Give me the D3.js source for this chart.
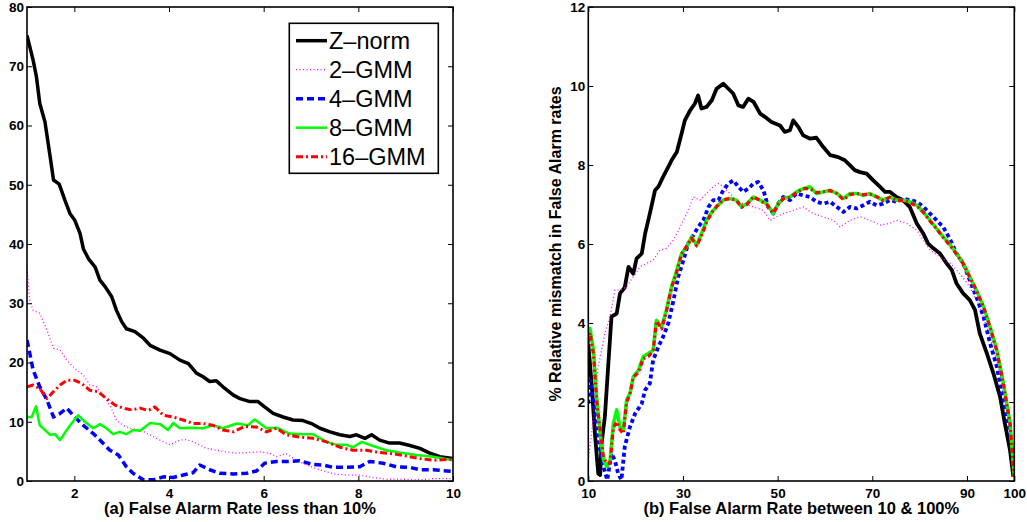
<!DOCTYPE html>
<html>
<head>
<meta charset="utf-8">
<script src="https://cdn.jsdelivr.net/npm/d3@7"></script>
<style>
  body { margin: 0; background: #fff; }
  svg { display: block; font-family: "Liberation Sans", Arial, Helvetica, sans-serif; }
  .tick text { font-size: 13.5px; font-weight: bold; fill: #000; }
  .tick line { stroke: #000; stroke-width: 1; }
  .axisName { font-size: 16.5px; font-weight: bold; fill: #000; }
</style>
</head>
<body>
<div class="visHolder"></div>
<script>
var width = 1027,
  height = 522;

// series names + colours (shared by both panels)
var seriesNames = ["Z\u2013norm", "2\u2013GMM", "4\u2013GMM", "8\u2013GMM", "16\u2013GMM"];
var seriesColors = ["#000000", "#ff00ff", "#0000ff", "#00ff00", "#ff0000"];

// ---- panel (a): false alarm rate 1..10 %
var leftXTicks = [2, 4, 6, 8, 10];
var leftYTicks = [0, 10, 20, 30, 40, 50, 60, 70, 80];

var leftZnorm = [[1,75.2],[1.13,71],[1.2,68.2],[1.27,63.7],[1.38,60.6],[1.49,54.7],[1.56,50.8],[1.68,50.1],[1.8,47.4],[1.91,45.1],[2.01,44],[2.12,41.8],[2.19,39.2],[2.3,37.5],[2.44,36.1],[2.54,33.9],[2.65,32.8],[2.79,31.1],[2.89,28.8],[3.0,26.9],[3.1,25.7],[3.28,25.2],[3.46,24.1],[3.6,22.9],[3.81,22.1],[4.02,21.5],[4.23,20.4],[4.41,19.8],[4.58,18.2],[4.72,17.6],[4.86,16.8],[5.0,16.9],[5.14,15.9],[5.36,14.5],[5.5,13.9],[5.71,13.4],[5.88,13.4],[6.02,12.5],[6.2,11.4],[6.41,10.8],[6.62,10.3],[6.83,10.2],[7.01,9.7],[7.19,8.9],[7.4,8.3],[7.61,7.8],[7.82,7.5],[7.96,7.8],[8.14,7.2],[8.28,7.8],[8.45,6.9],[8.66,6.4],[8.87,6.4],[9.09,6.0],[9.3,5.5],[9.51,4.7],[9.72,4.1],[10,3.8]];
var left2GMM = [[1,35.9],[1.06,30.5],[1.13,28.8],[1.27,28.3],[1.42,25.5],[1.56,22.4],[1.7,22.1],[1.84,20.4],[2.01,19],[2.19,17.9],[2.33,16.2],[2.47,15.9],[2.61,14.5],[2.75,12.8],[2.89,10.3],[3.03,9.4],[3.17,8.9],[3.39,8.6],[3.6,7.8],[3.81,6.9],[4.02,6.1],[4.23,6.9],[4.37,7.0],[4.58,6.4],[4.79,5.5],[5.0,5.2],[5.22,4.9],[5.43,4.7],[5.64,4.8],[5.92,4.9],[6.13,4.7],[6.27,4.1],[6.48,4.6],[6.69,3.5],[6.9,2.7],[7.19,1.9],[7.47,1.2],[7.75,1.0],[8.03,1.0],[8.31,0.6],[8.59,0.3],[8.87,0.3],[9.3,0.2],[9.58,0.4],[10,0.4]];
var left4GMM = [[1,23.8],[1.06,21.5],[1.13,18.7],[1.27,15.9],[1.42,13.7],[1.56,10.8],[1.7,11.4],[1.84,12.3],[2.01,10.8],[2.19,9.4],[2.4,8.0],[2.54,6.9],[2.75,5.2],[2.93,4.4],[3.1,2.4],[3.24,1.3],[3.46,0.2],[3.67,0.2],[3.88,0.7],[4.09,0.6],[4.3,1.0],[4.51,1.4],[4.65,2.7],[4.86,1.9],[5.07,1.3],[5.36,1.2],[5.64,1.3],[5.85,1.7],[6.02,3.0],[6.27,3.3],[6.55,3.3],[6.76,3.4],[7.04,2.8],[7.26,2.7],[7.47,2.3],[7.75,2.3],[8.03,2.4],[8.24,3.3],[8.52,3.0],[8.8,2.4],[9.09,2.3],[9.3,1.9],[9.58,1.9],[10,1.6]];
var left8GMM = [[1,10.8],[1.1,10.8],[1.19,12.6],[1.27,9.4],[1.38,8.6],[1.49,7.8],[1.59,7.9],[1.7,6.9],[1.84,8.6],[1.94,9.7],[2.08,11.1],[2.22,10.0],[2.4,8.9],[2.54,9.6],[2.68,8.9],[2.82,7.9],[2.96,8.3],[3.1,7.9],[3.24,8.6],[3.39,8.5],[3.6,9.8],[3.81,9.6],[3.98,8.6],[4.09,9.8],[4.23,8.9],[4.44,9.0],[4.72,8.9],[4.93,9.4],[5.14,8.9],[5.43,9.7],[5.67,9.4],[5.81,10.4],[6.06,8.9],[6.27,9.0],[6.55,8.0],[6.83,7.9],[7.04,7.9],[7.33,6.6],[7.54,6.1],[7.75,6.1],[7.89,5.7],[8.07,6.6],[8.31,5.9],[8.59,5.2],[8.87,4.8],[9.23,4.4],[9.58,4.1],[10,3.5]];
var left16GMM = [[1,15.9],[1.13,16.2],[1.27,15.6],[1.42,13.9],[1.56,15.1],[1.7,16.2],[1.84,17.0],[2.01,17.0],[2.15,16.5],[2.33,15.3],[2.5,15.1],[2.68,13.9],[2.86,12.8],[3.03,12.3],[3.21,12.0],[3.39,12.3],[3.56,11.9],[3.7,12.5],[3.88,11.1],[4.09,10.8],[4.3,10.3],[4.51,9.7],[4.72,9.7],[4.93,9.4],[5.14,8.6],[5.36,8.3],[5.6,9.2],[5.85,9.1],[6.06,8.3],[6.27,8.9],[6.48,7.8],[6.76,7.4],[7.04,7.2],[7.33,6.6],[7.61,5.7],[7.89,5.2],[8.17,5.2],[8.45,4.8],[8.73,4.6],[9.02,4.2],[9.3,3.8],[9.58,3.5],[10,3.7]];

// ---- panel (b): false alarm rate 10..100 %
var rightXTicks = [10, 30, 50, 70, 90, 100];
var rightYTicks = [0, 2, 4, 6, 8, 10, 12];

var rightZnorm = [[10,3.48],[10.7,2.47],[11.4,1.2],[12.1,0.19],[12.5,0.15],[12.8,0.95],[13.5,1.63],[14.2,2.9],[14.9,4.16],[16.0,4.24],[16.7,4.75],[17.7,4.9],[18.5,5.42],[19.5,5.25],[20.2,5.63],[21.3,5.76],[22.0,6.26],[23.0,6.77],[24.1,7.36],[24.8,7.45],[25.8,7.7],[26.9,7.95],[27.6,8.12],[28.7,8.33],[29.7,8.79],[30.4,9.13],[31.5,9.38],[32.5,9.55],[33.2,9.76],[33.9,9.43],[35.0,9.47],[36.1,9.64],[37.1,9.93],[38.5,10.06],[39.6,9.93],[40.6,9.81],[41.7,9.51],[42.7,9.47],[43.8,9.68],[44.9,9.6],[46.3,9.3],[47.3,9.22],[48.7,9.09],[50.5,9.0],[51.5,8.84],[52.6,8.88],[53.3,9.13],[54.4,8.96],[55.4,8.75],[56.8,8.67],[58.2,8.69],[59.6,8.46],[61.1,8.25],[62.8,8.2],[64.2,8.12],[65.3,7.99],[66.3,7.87],[67.4,7.82],[68.8,7.78],[70.2,7.61],[71.6,7.45],[72.7,7.32],[73.7,7.32],[75.1,7.19],[76.5,7.11],[77.9,6.94],[79.4,6.52],[80.8,6.26],[81.8,6.01],[82.9,5.89],[84.3,5.76],[85.7,5.51],[86.8,5.34],[87.8,5.0],[89.2,4.75],[90.6,4.58],[91.7,4.33],[92.7,3.74],[94.2,3.23],[95.6,2.72],[97.0,2.13],[98.0,1.46],[99.1,0.78],[99.8,0.11]];
var right2GMM = [[10,0.53],[10.7,1.2],[11.4,2.05],[12.1,2.9],[12.8,3.31],[13.5,3.74],[14.6,4.16],[15.6,4.83],[16.7,4.83],[18.1,4.92],[19.5,5.17],[20.9,5.42],[22.3,5.51],[23.7,5.59],[25.1,5.84],[26.5,5.89],[28.0,6.1],[29.4,6.43],[30.8,6.77],[32.2,7.19],[33.6,7.11],[35.0,7.28],[36.4,7.45],[37.5,7.53],[38.5,7.45],[39.9,7.28],[41.3,7.11],[42.7,7.02],[44.9,6.94],[47.0,6.85],[48.4,6.6],[49.8,6.69],[51.2,6.77],[53.3,6.85],[55.4,6.94],[57.5,6.77],[59.6,6.69],[61.8,6.6],[63.2,6.43],[65.3,6.6],[67.4,6.69],[69.5,6.6],[71.6,6.48],[73.7,6.52],[75.1,6.6],[77.3,6.52],[79.4,6.35],[80.8,6.1],[82.2,5.84],[84.3,5.67],[86.5,5.51],[88.5,5.25],[90.6,4.92],[92.7,4.41],[94.9,3.65],[97.0,2.72],[98.7,1.54],[99.8,0.36]];
var right4GMM = [[10,1.96],[10.35,2.55],[11.1,2.05],[11.8,1.37],[12.5,0.78],[13.2,0.36],[14.0,0.03],[14.9,0.7],[15.6,0.53],[16.3,0.19],[17.0,0.03],[17.7,0.87],[18.8,1.37],[19.9,1.71],[21.3,1.96],[22.0,2.3],[23.0,2.47],[23.7,3.06],[24.8,3.4],[25.8,3.65],[26.9,3.99],[28.0,4.58],[29.0,5.17],[30.1,5.59],[31.1,6.01],[32.2,6.22],[33.2,6.43],[34.3,6.6],[35.4,6.94],[36.4,7.11],[37.5,7.11],[38.5,7.36],[39.6,7.53],[40.6,7.61],[41.7,7.45],[42.7,7.32],[43.8,7.4],[44.9,7.53],[45.9,7.57],[47.0,7.36],[48.0,6.94],[49.1,6.77],[50.1,7.02],[51.2,7.19],[52.6,7.11],[54.0,7.28],[55.4,7.23],[56.8,7.19],[58.2,7.07],[59.6,7.02],[61.1,7.07],[62.5,6.94],[63.9,6.81],[65.3,6.94],[66.7,6.9],[68.1,6.98],[69.5,7.07],[70.9,6.98],[72.3,7.02],[73.7,7.11],[75.1,7.07],[76.5,7.15],[77.9,7.11],[79.4,7.07],[80.8,6.94],[82.2,6.77],[83.6,6.6],[85.0,6.43],[86.5,6.1],[87.8,5.76],[89.2,5.51],[90.6,5.08],[92.0,4.66],[93.5,4.16],[94.9,3.48],[96.3,2.89],[97.7,2.05],[99.1,1.2],[100,0.36]];
var right8GMM = [[10,3.65],[10.35,3.86],[11.1,3.31],[11.8,2.05],[12.5,1.2],[13.2,0.53],[13.9,0.36],[14.6,0.53],[15.3,1.46],[16.0,1.8],[16.7,1.37],[17.4,1.29],[18.1,2.05],[18.8,2.22],[19.5,2.64],[20.6,2.81],[21.6,3.15],[22.7,3.23],[23.7,3.31],[24.4,4.07],[25.5,3.9],[26.5,4.33],[27.6,4.92],[28.7,5.34],[29.7,5.76],[30.8,5.93],[31.8,6.18],[32.9,5.97],[33.9,6.26],[35.0,6.6],[36.1,6.81],[37.1,6.94],[38.5,7.11],[39.9,7.15],[41.3,7.11],[42.4,6.94],[43.5,7.02],[44.9,7.19],[46.3,7.11],[47.7,7.02],[49.1,6.77],[50.1,7.02],[51.2,7.15],[52.6,7.19],[54.0,7.32],[55.4,7.4],[56.8,7.45],[58.2,7.28],[59.6,7.32],[61.1,7.36],[62.5,7.28],[63.9,7.15],[65.3,7.28],[66.7,7.28],[68.1,7.23],[69.5,7.28],[70.9,7.19],[72.3,7.11],[73.7,7.19],[75.1,7.11],[76.5,7.11],[77.9,7.07],[79.4,6.98],[80.8,6.81],[82.2,6.6],[83.6,6.39],[85.0,6.18],[86.5,5.97],[87.8,5.76],[89.2,5.51],[90.6,5.17],[92.0,4.83],[93.5,4.41],[94.9,3.9],[96.3,3.31],[97.7,2.47],[99.1,1.46],[100,0.11]];
var right16GMM = [[10,3.5],[10.35,3.75],[11.1,3.2],[11.8,2.0],[12.5,1.3],[13.2,0.6],[13.9,0.45],[14.6,0.45],[15.3,1.35],[16.0,1.5],[16.7,1.3],[17.4,1.2],[18.1,2.0],[18.8,2.2],[19.5,2.62],[20.6,2.75],[21.6,3.1],[22.7,3.15],[23.7,3.3],[24.4,4.05],[25.5,3.85],[26.5,4.3],[27.6,4.9],[28.7,5.3],[29.7,5.75],[30.8,5.95],[31.8,6.15],[32.9,5.95],[33.9,6.2],[35.0,6.55],[36.1,6.8],[37.1,6.95],[38.5,7.12],[39.9,7.15],[41.3,7.1],[42.4,6.93],[43.5,7.0],[44.9,7.2],[46.3,7.1],[47.7,7.0],[49.1,6.78],[50.1,7.0],[51.2,7.15],[52.6,7.18],[54.0,7.3],[55.4,7.4],[56.8,7.4],[58.2,7.3],[59.6,7.32],[61.1,7.35],[62.5,7.28],[63.9,7.12],[65.3,7.25],[66.7,7.28],[68.1,7.25],[69.5,7.26],[70.9,7.2],[72.3,7.1],[73.7,7.18],[75.1,7.1],[76.5,7.1],[77.9,7.05],[79.4,6.96],[80.8,6.8],[82.2,6.58],[83.6,6.38],[85.0,6.16],[86.5,5.95],[87.8,5.74],[89.2,5.5],[90.6,5.16],[92.0,4.82],[93.5,4.4],[94.9,3.88],[96.3,3.3],[97.7,2.45],[99.1,1.45],[100,0.1]];

var svgContainer = d3.select(".visHolder").append("svg").attr("width", width).attr("height", height);

// line styles per series [width, dasharray]
var leftStyles = [[3.5, null], [1.3, "1,2.5"], [3.5, "7,4"], [2.5, null], [3, "7,3,2,3"]];
var rightStyles = [[3.8, null], [1.3, "1,2.5"], [3.8, "4,3"], [3.5, null], [3.2, "5,3,2,3"]];

function drawPanel(id, x0, x1, xDomain, yDomain, xTicks, yTicks, seriesData, styles, xLabel, yLabel) {
  var top = 7, bottom = 481;
  var xScale = d3.scaleLinear().domain(xDomain).range([x0, x1]);
  var yScale = d3.scaleLinear().domain(yDomain).range([bottom, top]);
  var g = svgContainer.append("g").attr("id", id);

  g.append("clipPath").attr("id", id + "-clip")
    .append("rect").attr("x", x0).attr("y", top).attr("width", x1 - x0).attr("height", bottom - top);

  var line = d3.line().x(d => xScale(d[0])).y(d => yScale(d[1]));
  var plot = g.append("g").attr("clip-path", "url(#" + id + "-clip)");
  seriesData.forEach(function (s, i) {
    plot.append("path")
      .datum(s)
      .attr("d", line)
      .attr("fill", "none")
      .attr("stroke", seriesColors[i])
      .attr("stroke-width", styles[i][0])
      .attr("stroke-dasharray", styles[i][1])
      .attr("stroke-linejoin", "round");
  });

  // axes with inward ticks on all four sides
  g.append("g").attr("transform", `translate(0, ${bottom})`)
    .call(d3.axisBottom(xScale).tickValues(xTicks).tickSizeInner(-5).tickSizeOuter(0).tickPadding(7));
  g.append("g").attr("transform", `translate(0, ${top})`)
    .call(d3.axisTop(xScale).tickValues(xTicks).tickSizeInner(-5).tickSizeOuter(0).tickFormat(""));
  g.append("g").attr("transform", `translate(${x0}, 0)`)
    .call(d3.axisLeft(yScale).tickValues(yTicks).tickSizeInner(-5).tickSizeOuter(0).tickPadding(3));
  g.append("g").attr("transform", `translate(${x1}, 0)`)
    .call(d3.axisRight(yScale).tickValues(yTicks).tickSizeInner(-5).tickSizeOuter(0).tickFormat(""));
  g.selectAll(".domain").remove();

  g.append("rect")
    .attr("x", x0).attr("y", top).attr("width", x1 - x0).attr("height", bottom - top)
    .attr("fill", "none").attr("stroke", "#000").attr("stroke-width", 1.6);

  g.append("text").attr("class", "axisName")
    .attr("x", (x0 + x1) / 2).attr("y", 514)
    .attr("text-anchor", "middle")
    .text(xLabel);

  if (yLabel) {
    g.append("text").attr("class", "axisName")
      .attr("transform", `translate(561, ${(top + bottom) / 2}) rotate(-90)`)
      .attr("text-anchor", "middle")
      .style("font-size", "16px")
      .text(yLabel);
  }
  return g;
}

drawPanel("panelA", 27, 453, [1, 10], [0, 80], leftXTicks, leftYTicks,
  [leftZnorm, left2GMM, left4GMM, left8GMM, left16GMM], leftStyles,
  "(a) False Alarm Rate less than 10%", null);

drawPanel("panelB", 588.3, 1014.3, [10, 100], [0, 12], rightXTicks, rightYTicks,
  [rightZnorm, right2GMM, right4GMM, right8GMM, right16GMM], rightStyles,
  "(b) False Alarm Rate between 10 & 100%", "% Relative mismatch in False Alarm rates");

// legend in panel (a)
var legendContainer = svgContainer.append("g").attr("id", "legend");
legendContainer.append("rect")
  .attr("x", 289.3).attr("y", 23.3).attr("width", 149).attr("height", 150)
  .attr("fill", "#fff").attr("stroke", "#000").attr("stroke-width", 1.6);

var legend = legendContainer.selectAll(".legend-label")
  .data(seriesNames)
  .enter()
  .append("g")
  .attr("class", "legend-label")
  .attr("transform", (d, i) => "translate(296," + (40.7 + i * 29) + ")");

legend.append("line")
  .attr("x1", 0).attr("x2", 31).attr("y1", 0).attr("y2", 0)
  .attr("stroke", (d, i) => seriesColors[i])
  .attr("stroke-width", (d, i) => leftStyles[i][0])
  .attr("stroke-dasharray", (d, i) => leftStyles[i][1]);

legend.append("text")
  .attr("x", 33)
  .attr("y", 0)
  .attr("dy", "0.36em")
  .style("font-size", "23.5px")
  .style("fill", "#000")
  .text(d => d);
</script>
</body>
</html>
